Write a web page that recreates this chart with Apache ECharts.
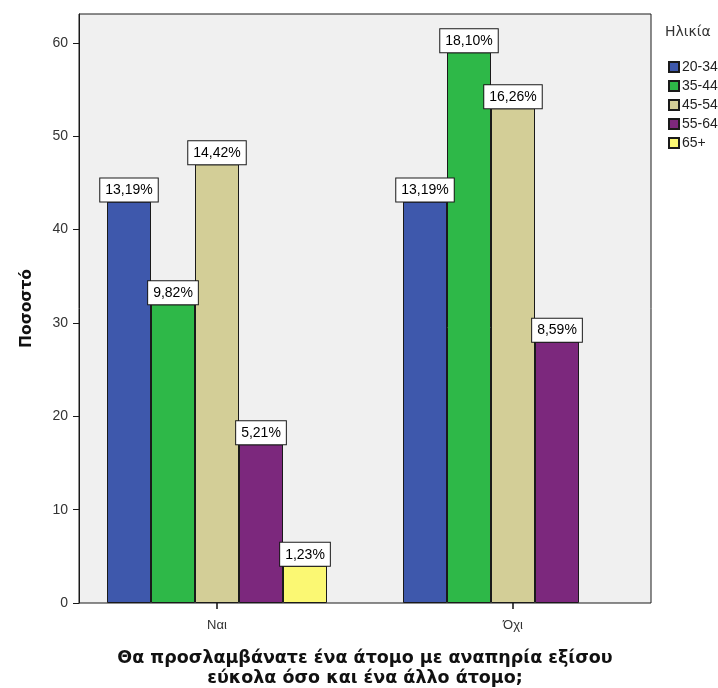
<!DOCTYPE html>
<html>
<head>
<meta charset="utf-8">
<script src="https://cdn.jsdelivr.net/npm/echarts@6/dist/echarts.min.js"></script>
<style>
html,body{margin:0;padding:0;background:#fff;}
#c{width:718px;height:688px;}
</style>
</head>
<body>
<div id="c"></div>
<script>
// Data
const categories = ['Ναι', 'Όχι'];
const ageGroups = ['20-34', '35-44', '45-54', '55-64', '65+'];
const counts_20_34 = [43, 43];
const counts_35_44 = [32, 59];
const counts_45_54 = [47, 53];
const counts_55_64 = [17, 28];
const counts_65 = [4, 0];
const pct_20_34 = ['13,19%', '13,19%'];
const pct_35_44 = ['9,82%', '18,10%'];
const pct_45_54 = ['14,42%', '16,26%'];
const pct_55_64 = ['5,21%', '8,59%'];
const pct_65 = ['1,23%', ''];
const yTicks = [0, 10, 20, 30, 40, 50, 60];
const colors = ['#3E58AC', '#2EB848', '#D3CE97', '#7C287D', '#FBF873'];

const seriesValues = [counts_20_34, counts_35_44, counts_45_54, counts_55_64, counts_65];
const seriesPct = [pct_20_34, pct_35_44, pct_45_54, pct_55_64, pct_65];

const YMAX = 63.1;
const font = '"Liberation Sans", Arial, sans-serif';

const chart = echarts.init(document.getElementById('c'), null, {renderer: 'canvas'});

const series = ageGroups.map((name, si) => ({
  name: name,
  type: 'bar',
  xAxisIndex: 1,
  yAxisIndex: 1,
  barWidth: 44,
  barGap: '0%',
  itemStyle: {color: colors[si], borderColor: '#1a1a1a', borderWidth: 1},
  label: {
    show: true,
    position: 'top',
    distance: 0,
    fontFamily: font,
    fontSize: 14,
    color: '#000',
    backgroundColor: '#fff',
    borderColor: '#1a1a1a',
    borderWidth: 1,
    padding: [5, 5, 4, 5],
    formatter: p => seriesPct[si][p.dataIndex]
  },
  emphasis: {disabled: true},
  data: seriesValues[si].map((v, i) => v === 0
    ? {value: v, label: {show: false}, itemStyle: {borderWidth: 0}}
    : v)
}));

chart.setOption({
  animation: false,
  backgroundColor: '#fff',
  color: colors,
  title: {
    text: 'Ηλικία',
    left: 660,
    top: 20,
    textStyle: {fontFamily: '"DejaVu Sans", sans-serif', fontSize: 14, fontWeight: 'normal', color: '#333'}
  },
  legend: {
    orient: 'vertical',
    left: 663,
    top: 55,
    itemWidth: 10,
    itemHeight: 10,
    itemGap: 5,
    icon: 'rect',
    textStyle: {fontFamily: font, fontSize: 14, color: '#222', padding: [0, 0, 0, -2]},
    data: ageGroups
  },
  grid: [
    {left: 79, top: 14, width: 572, height: 589, containLabel: false, outerBoundsMode: 'none', show: true, backgroundColor: '#f0f0f0', borderColor: '#1a1a1a', borderWidth: 1},
    {left: 69, top: 14, width: 592, height: 589, containLabel: false, outerBoundsMode: 'none'}
  ],
  xAxis: [
    {gridIndex: 0, type: 'value', min: 0, max: 1, show: false},
    {
      gridIndex: 1,
      type: 'category',
      data: categories,
      axisLine: {show: false},
      axisTick: {show: true, alignWithLabel: true, length: 6, lineStyle: {color: '#111', width: 1.5}},
      axisLabel: {fontFamily: font, fontSize: 13, color: '#333', margin: 16},
      name: 'Θα προσλαμβάνατε ένα άτομο με αναπηρία εξίσου\nεύκολα όσο και ένα άλλο άτομο;',
      nameLocation: 'middle',
      nameGap: 45,
      nameTextStyle: {fontFamily: '"DejaVu Sans", sans-serif', fontWeight: 'bold', fontSize: 17.5, lineHeight: 20, color: '#111', align: 'center'}
    }
  ],
  yAxis: [
    {
      gridIndex: 0,
      type: 'value',
      min: 0,
      max: YMAX,
      axisLine: {show: true, lineStyle: {color: '#1a1a1a'}},
      axisTick: {show: true, length: 6, customValues: yTicks, lineStyle: {color: '#1a1a1a'}},
      axisLabel: {fontFamily: font, fontSize: 14, color: '#333', margin: 11, customValues: yTicks},
      splitLine: {show: false},
      name: 'Ποσοστό',
      nameLocation: 'middle',
      nameGap: 44,
      nameTextStyle: {fontFamily: '"DejaVu Sans", sans-serif', fontWeight: 'bold', fontSize: 15.5, color: '#111'}
    },
    {gridIndex: 1, type: 'value', min: 0, max: YMAX, show: false}
  ],
  series: series
});
</script>
</body>
</html>
